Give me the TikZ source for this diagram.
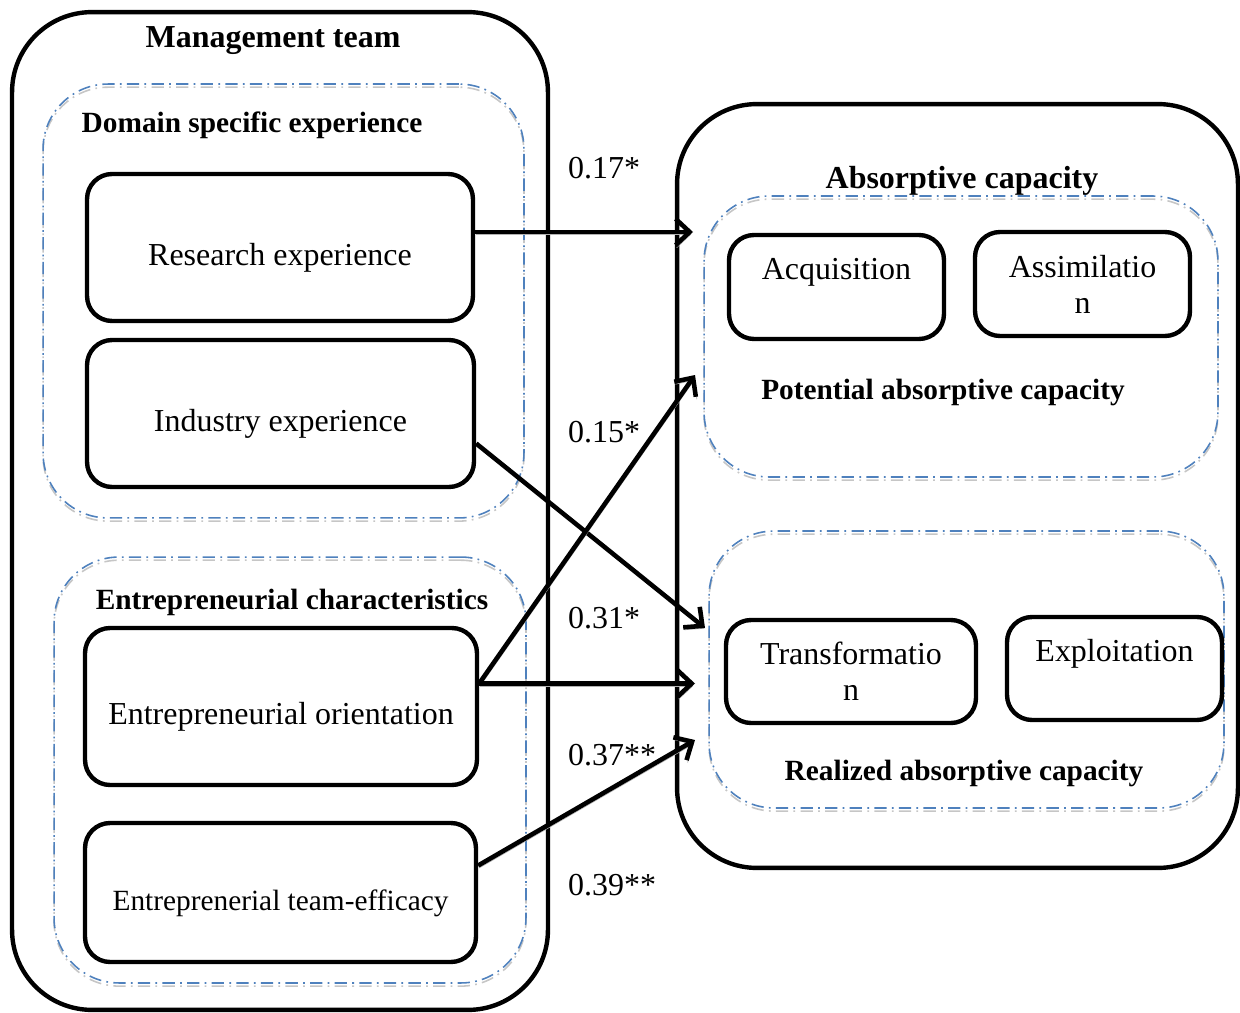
\documentclass[tikz,border=0pt]{standalone}
\usepackage{fontspec}
\setmainfont{Liberation Serif}
\usetikzlibrary{arrows.meta,calc}
\definecolor{dashblue}{RGB}{79,129,189}
\newcommand\figfont{\fontsize{18.2}{20.5}\selectfont}
\newcommand\subfont{\fontsize{16.7}{20}\selectfont}
\tikzset{
  bigbox/.style={
    rectangle, draw=black, line width=2.5pt,
    rounded corners=1.6cm, inner sep=0pt
  },
  groupbox/.style={
    rectangle, draw=dashblue, line width=0.9pt,
    dash pattern=on 7pt off 3pt on 1pt off 3pt,
    rounded corners=1.3cm, inner sep=0pt,
    preaction={draw=gray!45, transform canvas={yshift=-1.8pt}}
  },
  itembox/.style={
    rectangle, draw=black, line width=2.5pt,
    rounded corners=0.5cm, align=center, inner sep=0pt
  },
  lowtext/.style={text height=25pt, text depth=4pt},
  heading/.style={font=\figfont\bfseries},
  subheading/.style={font=\subfont\bfseries},
  weight/.style={anchor=west},
  link/.style={
    line width=2.6pt, -{Straight Barb[length=8pt,width=15pt]},
    preaction={draw=gray!60, transform canvas={shift={(0.6pt,-1.4pt)}}}
  }
}
\begin{document}
\begin{tikzpicture}[x=0.02cm, y=-0.02cm, font=\figfont]
\useasboundingbox (0,0) rectangle (1240,1013);
\node[bigbox, minimum width=10.72cm, minimum height=19.96cm] (mgmt) at (280,511) {};
\node[bigbox, minimum width=11.22cm, minimum height=15.28cm] (absorb) at (957.5,486) {};
\node[groupbox, minimum width=9.62cm, minimum height=8.68cm] (domain) at (283.5,301) {};
\node[groupbox, minimum width=9.44cm, minimum height=8.52cm] (entchar) at (290,770) {};
\node[groupbox, minimum width=10.28cm, minimum height=5.62cm] (potential) at (961,336.5) {};
\node[groupbox, minimum width=10.3cm, minimum height=5.54cm] (realized) at (966.5,669.5) {};
\node[heading] (mgmtT) at (273,41) {Management team};
\node[subheading] (domainT) at (252,125) {Domain specific experience};
\node[subheading] (entcharT) at (292,602) {Entrepreneurial characteristics};
\node[heading] (absorbT) at (962,181) {Absorptive capacity};
\node[subheading] (potentialT) at (943,392) {Potential absorptive capacity};
\node[subheading] (realizedT) at (964,773) {Realized absorptive capacity};
\node[itembox, lowtext, minimum width=7.72cm, minimum height=2.94cm] (res) at (280,247.5) {Research experience};
\node[itembox, lowtext, minimum width=7.74cm, minimum height=2.94cm] (ind) at (280.5,413.5) {Industry experience};
\node[itembox, lowtext, minimum width=7.84cm, minimum height=3.14cm] (eo) at (281,706.5) {Entrepreneurial orientation};
\node[itembox, lowtext, font=\subfont, minimum width=7.82cm, minimum height=2.78cm] (te) at (280.5,892.5) {Entreprenerial team-efficacy};
\node[itembox, minimum width=4.3cm, minimum height=2.08cm] (acq) at (836.5,287) {Acquisition\\ \mbox{}};
\node[itembox, minimum width=4.3cm, minimum height=2.08cm] (assim) at (1082.5,284) {Assimilatio\\n};
\node[itembox, minimum width=5cm, minimum height=2.06cm] (transf) at (851,671.5) {Transformatio\\n};
\node[itembox, minimum width=4.3cm, minimum height=2.06cm] (exploit) at (1114.5,668.5) {Exploitation\\ \mbox{}};
\coordinate (t1) at (693,232);
\coordinate (t2) at (705,628);
\coordinate (t3) at (695,375);
\coordinate (t4) at (695,683.5);
\coordinate (t5) at (695,740);
\draw[link] (res.east |- t1) -- (t1);
\draw[link] ($(ind.east)+(0,30)$) -- (t2);
\draw[link] ($(eo.east)+(0,-23)$) -- (t3);
\draw[link] ($(eo.east)+(0,-23)$) -- (t4);
\draw[link] ($(te.east)+(0,-27)$) -- (t5);
\node[weight] (w1) at (562,168) {0.17*};
\node[weight] (w2) at (562,432) {0.15*};
\node[weight] (w3) at (562,618) {0.31*};
\node[weight] (w4) at (562,755) {0.37**};
\node[weight] (w5) at (562,885) {0.39**};
\end{tikzpicture}
\end{document}
